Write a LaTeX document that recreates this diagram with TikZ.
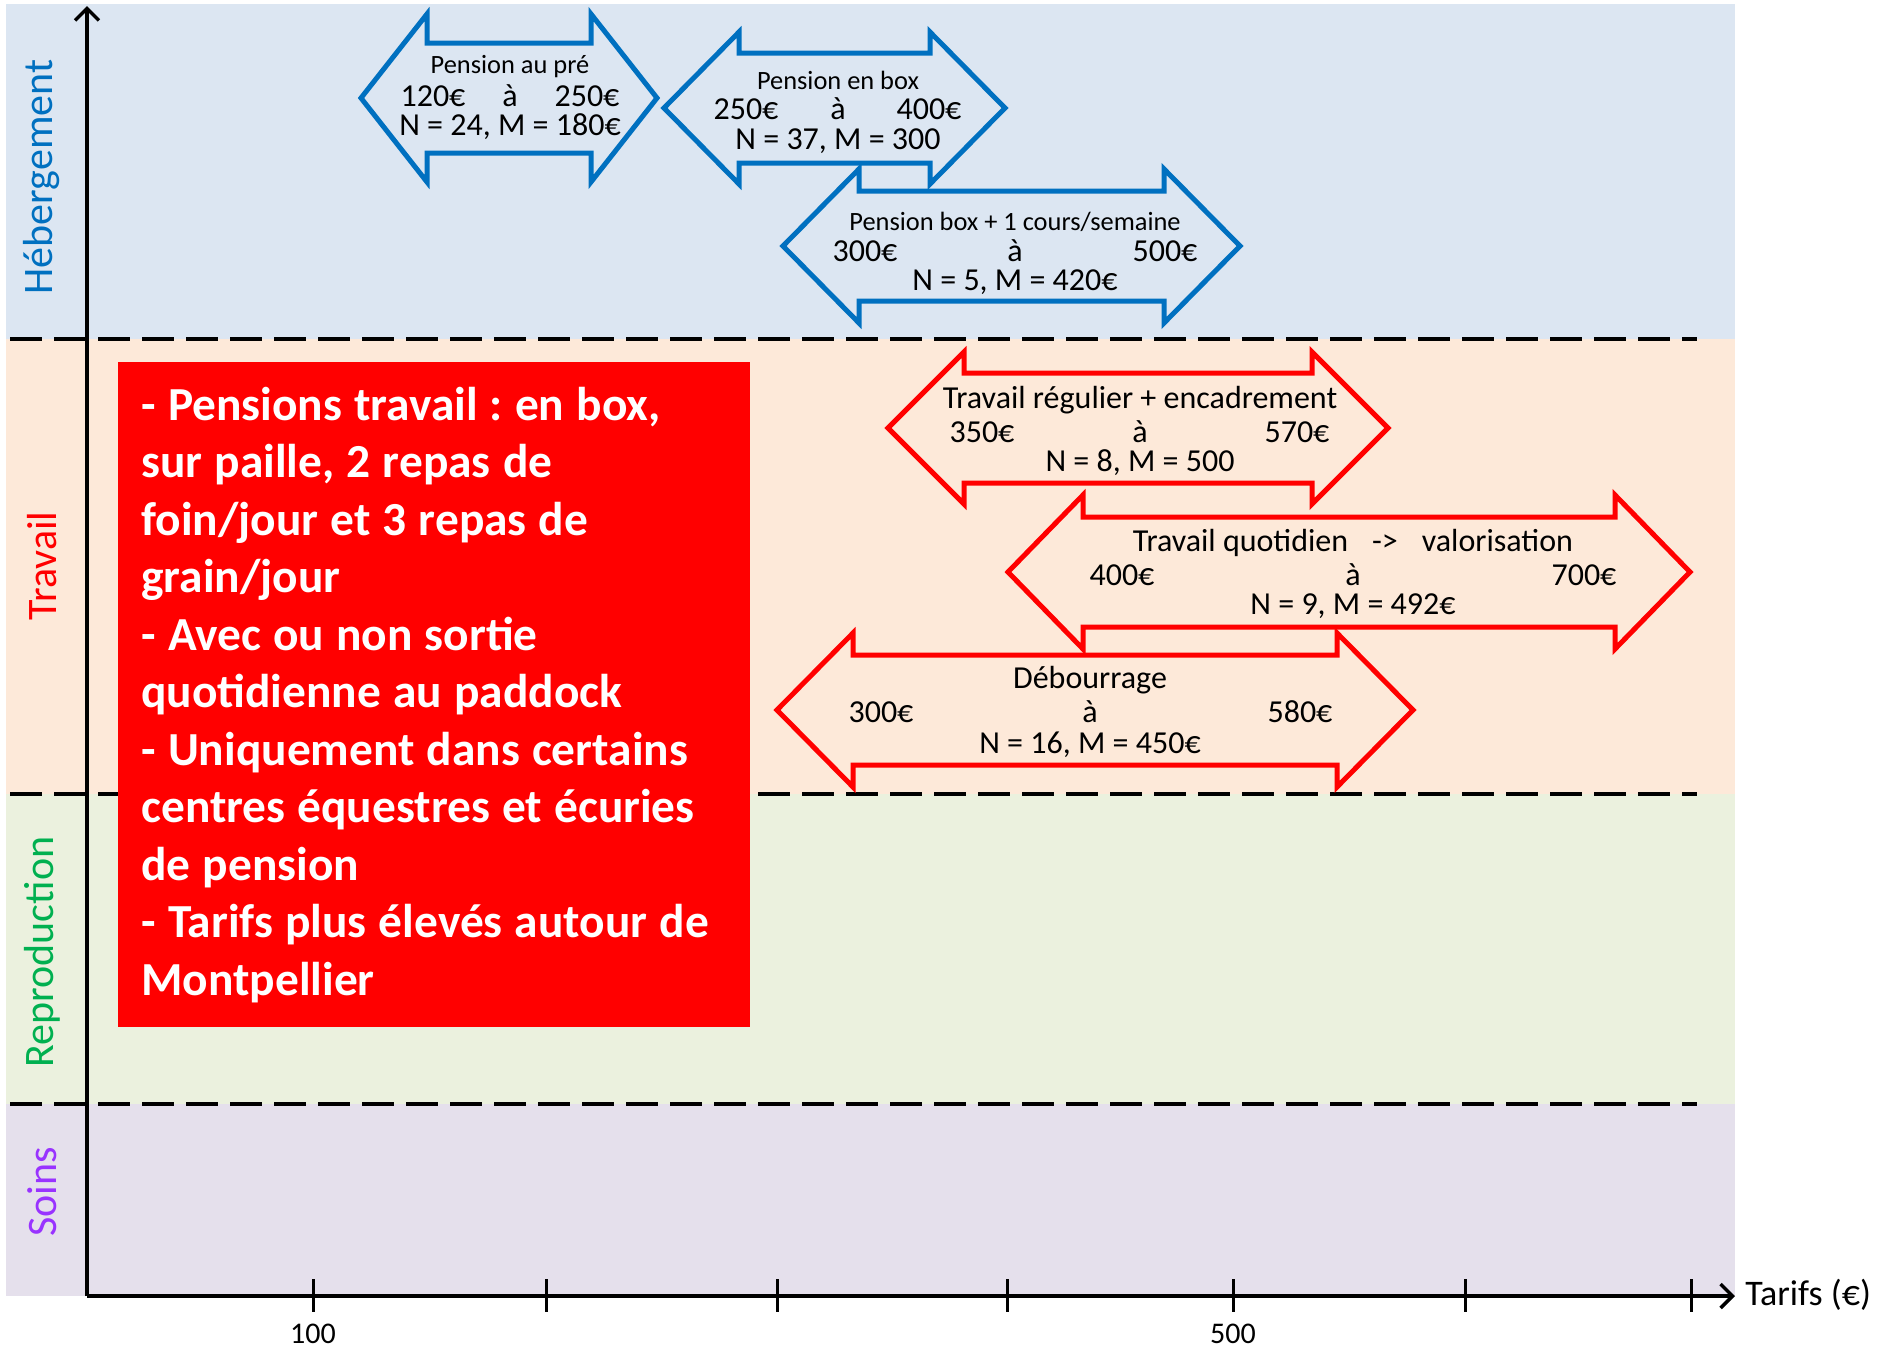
\documentclass[tikz,border=0pt]{standalone}
\usepackage{fontspec}
\setmainfont{Carlito}
\usetikzlibrary{arrows.meta}

\definecolor{hebfond}{HTML}{DCE6F2}
\definecolor{travfond}{HTML}{FDE9D9}
\definecolor{reprofond}{HTML}{EBF1DE}
\definecolor{soinsfond}{HTML}{E5E0EC}
\definecolor{bleu}{HTML}{0070C0}
\definecolor{rouge}{HTML}{FF0000}
\definecolor{vert}{HTML}{00B050}
\definecolor{violet}{HTML}{9933FF}

\begin{document}
\frenchspacing
\begin{tikzpicture}[x=0.5pt,y=-0.5pt,
  bande/.style={font=\fontsize{21}{25}\selectfont, rotate=90, inner sep=0pt},
  titre/.style={font=\fontsize{13.2}{15}\selectfont, inner sep=0pt},
  prix/.style={font=\fontsize{16}{19}\selectfont, inner sep=0pt},
  fleche/.style={draw=#1, line width=2.5pt, line join=miter},
  limite/.style={line width=2pt, dash pattern=on 16pt off 6pt},
  axe/.style={line width=1.75pt, -{Straight Barb[length=6pt,width=12pt,line width=1.75pt]}},
  graduation/.style={line width=1.5pt}]
\useasboundingbox (0,0) rectangle (1887,1350);

% fonds des categories
\fill[hebfond] (6,4) rectangle (1735,339);
\fill[travfond] (6,339) rectangle (1735,794);
\fill[reprofond] (6,794) rectangle (1735,1104);
\fill[soinsfond] (6,1104) rectangle (1735,1296);
\foreach \y in {339,794,1104} {
    \draw[limite] (10,\y) -- (1697,\y);
}

% noms des categories
\node[bande, bleu] (heb) at (42,177) {Hébergement};
\node[bande, rouge] (trav) at (42,566) {Travail};
\node[bande, vert] (repro) at (42,952) {Reproduction};
\node[bande, violet] (soins) at (42,1192) {Soins};

% axes
\coordinate (origine) at (87,1296);
\coordinate (haut) at (87,6);
\coordinate (droite) at (1735,1296);
\draw[axe] (origine) -- (haut);
\draw[axe] (origine) -- (droite);
\node[prix, font=\fontsize{18}{21}\selectfont, anchor=west] (tarifs) at (1745,1295) {Tarifs (€)};
\foreach \x in {313,546,777,1007,1233,1465,1691} {
    \draw[graduation] (\x,1279) -- (\x,1312);
}
\node[prix, font=\fontsize{15}{18}\selectfont] (cent) at (313,1334) {100};
\node[prix, font=\fontsize{15}{18}\selectfont] (cinqcents) at (1233,1334) {500};

% fleches des tarifs
\foreach \xa/\xb/\yc/\tete/\demi/\coul in {361/657/98/66/84/bleu, 664/1005/108/75/76/bleu,
    783/1240/246/76/77/bleu, 888/1388/428/76/76/rouge, 1008/1690/572/75/77/rouge,
    777/1413/710/76/77/rouge} {
    \draw[fleche=\coul] (\xa,\yc) -- (\xa+\tete,\yc-\demi) -- (\xa+\tete,\yc-55)
        -- (\xb-\tete,\yc-55) -- (\xb-\tete,\yc-\demi) -- (\xb,\yc)
        -- (\xb-\tete,\yc+\demi) -- (\xb-\tete,\yc+55) -- (\xa+\tete,\yc+55)
        -- (\xa+\tete,\yc+\demi) -- cycle;
}

% Hebergement
\node[titre] (pre) at (510,67) {Pension au pré};
\node[prix] (pre-min) at (433,96) {120€};
\node[prix] (pre-a) at (510,96) {à};
\node[prix] (pre-max) at (587,96) {250€};
\node[prix] (pre-nm) at (510,127) {N = 24, M = 180€};

\node[titre] (box) at (838,80) {Pension en box};
\node[prix] (box-min) at (746,109) {250€};
\node[prix] (box-a) at (838,109) {à};
\node[prix] (box-max) at (929,109) {400€};
\node[prix] (box-nm) at (838,141) {N = 37, M = 300};

\node[titre] (cours) at (1015,222) {Pension box + 1 cours/semaine};
\node[prix] (cours-min) at (865,251) {300€};
\node[prix] (cours-a) at (1015,251) {à};
\node[prix] (cours-max) at (1165,251) {500€};
\node[prix] (cours-nm) at (1015,282) {N = 5, M = 420€};

% Travail
\node[prix] (regulier) at (1140,400) {Travail régulier + encadrement};
\node[prix] (regulier-min) at (982,432) {350€};
\node[prix] (regulier-a) at (1140,432) {à};
\node[prix] (regulier-max) at (1297,432) {570€};
\node[prix] (regulier-nm) at (1140,463) {N = 8, M = 500};

\node[prix] (quotidien) at (1353,543) {Travail quotidien\hspace{0.75em}{-}{>}\hspace{0.75em}valorisation};
\node[prix] (quotidien-min) at (1122,575) {400€};
\node[prix] (quotidien-a) at (1353,575) {à};
\node[prix] (quotidien-max) at (1584,575) {700€};
\node[prix] (quotidien-nm) at (1353,606) {N = 9, M = 492€};

\node[prix] (debourrage) at (1090,680) {Débourrage};
\node[prix] (debourrage-min) at (881,712) {300€};
\node[prix] (debourrage-a) at (1090,712) {à};
\node[prix] (debourrage-max) at (1300,712) {580€};
\node[prix] (debourrage-nm) at (1090,745) {N = 16, M = 450€};

% encadre des pensions travail
\node[fill=rouge, text=white, anchor=north west, minimum width=316pt, minimum height=332.5pt,
    inner xsep=11.5pt, inner ysep=0pt, text width=293pt, align=left,
    font=\bfseries\fontsize{23.7}{28.75}\selectfont] (remarque) at (118,362) {%
\spaceskip=\dimexpr\fontdimen2\font+0.03em\relax
- Pensions travail : en box,\\
sur paille, 2 repas de\\
foin/jour et 3 repas de\\
grain/jour\\
- Avec ou non sortie\\
quotidienne au paddock\\
- Uniquement dans certains\\
centres équestres et écuries\\
de pension\\
- Tarifs plus élevés autour de\\
Montpellier};
\end{tikzpicture}
\end{document}
